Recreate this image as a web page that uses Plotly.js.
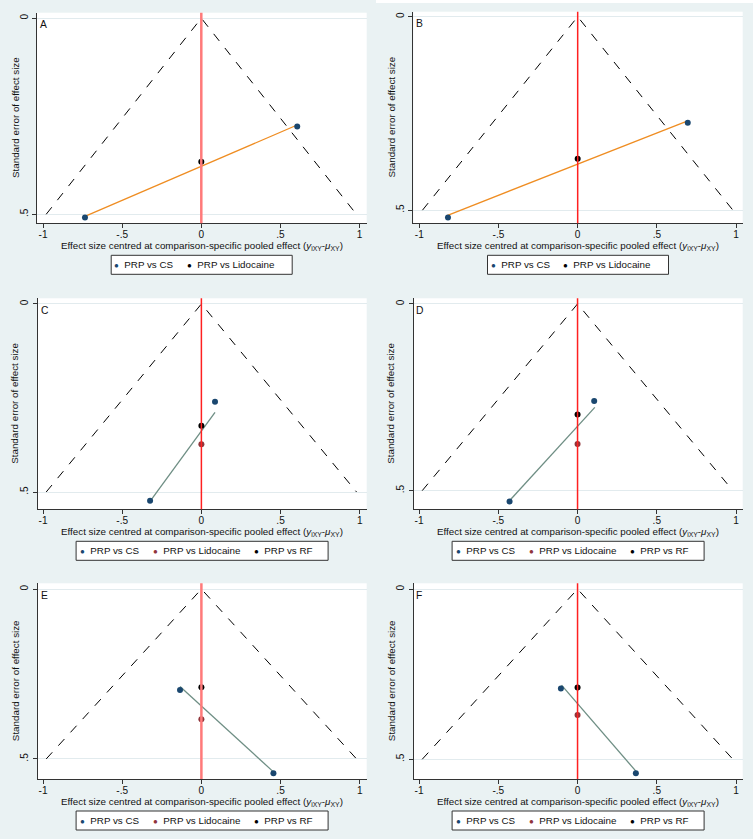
<!DOCTYPE html>
<html>
<head>
<meta charset="utf-8">
<script src="https://cdn.plot.ly/plotly-3.0.1.min.js"></script>
<style>
html,body{margin:0;padding:0;background:#eaf2f3;}
#chart{width:753px;height:839px;}
</style>
</head>
<body>
<div id="chart"></div>
<script>
// ---------- data ----------
const panelLetters = ["A", "B", "C", "D", "E", "F"];
const xTickVals = [-1, -0.5, 0, 0.5, 1];
const xTickText = ["-1", "-.5", "0", ".5", "1"];
const yTickVals = [0, 0.5];
const yTickText = ["0", ".5"];
const funnelX = [-0.98, 0, 0.98];
const funnelY = [0.5, 0, 0.5];
const seriesNames = ["PRP vs CS", "PRP vs Lidocaine", "PRP vs RF"];
const xTitleText = "Effect size centred at comparison-specific pooled effect (<i>y</i><sub>iXY</sub>-<i>μ</i><sub>XY</sub>)";
const yTitleText = "Standard error of effect size";

// Panel A
const csX_A = [0.606, -0.735];   const csY_A = [0.276, 0.508];
const lidoX_A = [0];             const lidoY_A = [0.366];
const lineX_A = [-0.728, 0.602]; const lineY_A = [0.504, 0.273];
// Panel B
const csX_B = [0.695, -0.819];   const csY_B = [0.274, 0.519];
const lidoX_B = [0];             const lidoY_B = [0.367];
const lineX_B = [-0.825, 0.695]; const lineY_B = [0.514, 0.269];
// Panel C
const csX_C = [0.086, -0.324];   const csY_C = [0.260, 0.523];
const lidoX_C = [0];             const lidoY_C = [0.373];
const rfX_C = [0];               const rfY_C = [0.324];
const lineX_C = [-0.314, 0.086]; const lineY_C = [0.519, 0.288];
// Panel D
const csX_D = [0.105, -0.429];   const csY_D = [0.260, 0.529];
const lidoX_D = [0];             const lidoY_D = [0.375];
const rfX_D = [0];               const rfY_D = [0.296];
const lineX_D = [-0.421, 0.109]; const lineY_D = [0.523, 0.277];
// Panel E
const csX_E = [-0.135, 0.455];   const csY_E = [0.297, 0.542];
const lidoX_E = [0];             const lidoY_E = [0.383];
const rfX_E = [0];               const rfY_E = [0.289];
const lineX_E = [-0.135, 0.455]; const lineY_E = [0.287, 0.538];
// Panel F
const csX_F = [-0.105, 0.368];   const csY_F = [0.292, 0.541];
const lidoX_F = [0];             const lidoY_F = [0.370];
const rfX_F = [0];               const rfY_F = [0.289];
const lineX_F = [-0.101, 0.368]; const lineY_F = [0.282, 0.535];

// ---------- layout geometry (pixels) ----------
const W = 753, H = 839;
const FONT = "Liberation Sans, Arial, sans-serif";
const FS = 9.8;
const TXT = "#111111";
const NAVY = "#1a476f", MAROON = "#90353b", BLACK = "#000000";
const ORANGE = "#ef8d22", TEAL = "#6e8e84";

const panels = [
  {csX:csX_A, csY:csY_A, lidoX:lidoX_A, lidoY:lidoY_A, rfX:null, rfY:null, lineX:lineX_A, lineY:lineY_A,
   lineColor:ORANGE, lidoColor:BLACK, px:[36.7,366.7], py:[12.7,223.3], xr:[-1.040,1.045], yr:[0.523,-0.014], red:"#ff7a7a", redW:2.5, ytx:15},
  {csX:csX_B, csY:csY_B, lidoX:lidoX_B, lidoY:lidoY_B, rfX:null, rfY:null, lineX:lineX_B, lineY:lineY_B,
   lineColor:ORANGE, lidoColor:BLACK, px:[413.3,742.7], py:[11.7,223.3], xr:[-1.038,1.042], yr:[0.534,-0.013], red:"#ff2020", redW:1.5, ytx:391},
  {csX:csX_C, csY:csY_C, lidoX:lidoX_C, lidoY:lidoY_C, rfX:rfX_C, rfY:rfY_C, lineX:lineX_C, lineY:lineY_C,
   lineColor:TEAL, lidoColor:MAROON, px:[37.5,366.7], py:[298.3,509.3], xr:[-1.035,1.044], yr:[0.546,-0.015], red:"#ff2020", redW:1.5, ytx:15},
  {csX:csX_D, csY:csY_D, lidoX:lidoX_D, lidoY:lidoY_D, rfX:rfX_D, rfY:rfY_D, lineX:lineX_D, lineY:lineY_D,
   lineColor:TEAL, lidoColor:MAROON, px:[413.5,742.7], py:[298.3,509.3], xr:[-1.035,1.042], yr:[0.550,-0.015], red:"#ff2020", redW:1.5, ytx:391},
  {csX:csX_E, csY:csY_E, lidoX:lidoX_E, lidoY:lidoY_E, rfX:rfX_E, rfY:rfY_E, lineX:lineX_E, lineY:lineY_E,
   lineColor:TEAL, lidoColor:MAROON, px:[37.5,366.7], py:[583.3,779], xr:[-1.035,1.044], yr:[0.559,-0.017], red:"#ff7a7a", redW:2.5, ytx:15},
  {csX:csX_F, csY:csY_F, lidoX:lidoX_F, lidoY:lidoY_F, rfX:rfX_F, rfY:rfY_F, lineX:lineX_F, lineY:lineY_F,
   lineColor:TEAL, lidoColor:MAROON, px:[413.5,742.7], py:[583.3,779], xr:[-1.035,1.042], yr:[0.558,-0.017], red:"#ff2020", redW:1.5, ytx:391}
];

const traces = [];
const layout = {
  width: W, height: H,
  margin: {l:0, r:0, t:0, b:0},
  paper_bgcolor: "#eaf2f3",
  plot_bgcolor: "#ffffff",
  font: {family: FONT, size: FS, color: TXT},
  showlegend: false,
  shapes: [],
  annotations: []
};

const px2x = v => v / W;
const py2y = v => 1 - v / H;

panels.forEach((p, i) => {
  const n = i + 1;
  const xa = n === 1 ? "x" : "x" + n;
  const ya = n === 1 ? "y" : "y" + n;
  const xKey = n === 1 ? "xaxis" : "xaxis" + n;
  const yKey = n === 1 ? "yaxis" : "yaxis" + n;
  const cx = (p.px[0] + p.px[1]) / 2;
  const bottom = p.py[1];

  layout[xKey] = {
    domain: [px2x(p.px[0]), px2x(p.px[1])],
    anchor: ya,
    range: p.xr,
    tickmode: "array", tickvals: xTickVals, ticktext: xTickText,
    ticks: "outside", ticklen: 4, tickcolor: "#333", tickwidth: 1,
    ticklabelstandoff: -2,
    showline: true, linecolor: "#333", linewidth: 1,
    showgrid: false, zeroline: false,
    tickfont: {family: FONT, size: FS + 0.3, color: TXT}
  };
  layout[yKey] = {
    domain: [py2y(p.py[1]), py2y(p.py[0])],
    anchor: xa,
    range: p.yr,
    tickmode: "array", tickvals: yTickVals, ticktext: yTickText,
    tickangle: -90,
    ticks: "outside", ticklen: 4, tickcolor: "#333", tickwidth: 1,
    ticklabelstandoff: 0,
    showline: true, linecolor: "#333", linewidth: 1,
    showgrid: true, gridcolor: "#e2ebee", gridwidth: 1,
    zeroline: false,
    tickfont: {family: FONT, size: FS + 0.3, color: TXT}
  };

  // axis titles
  layout.annotations.push({
    text: xTitleText, xref: "paper", yref: "paper",
    x: px2x(cx), y: py2y(bottom + 22.5), xanchor: "center", yanchor: "middle",
    showarrow: false, font: {family: FONT, size: FS, color: TXT}
  });
  layout.annotations.push({
    text: yTitleText, xref: "paper", yref: ya + " domain",
    x: px2x(p.ytx), y: 0.5, xanchor: "center", yanchor: "middle", textangle: -90,
    showarrow: false, font: {family: FONT, size: FS, color: TXT}
  });

  // red vertical line at zero
  layout.shapes.push({
    type: "line", xref: xa, yref: ya + " domain",
    x0: 0, x1: 0, y0: 0, y1: 1,
    line: {color: p.red, width: p.redW}, layer: "above"
  });
  // panel letter
  layout.annotations.push({
    text: panelLetters[i], xref: xa + " domain", yref: ya + " domain",
    x: 0, y: 1, xanchor: "left", yanchor: "middle", xshift: 1, yshift: -12,
    showarrow: false, font: {family: FONT, size: FS + 0.5, color: TXT}
  });

  // legend box (drawn as shape + annotations)
  const three = !!p.rfX;
  const boxW = three ? 252 : 181;
  const boxL = cx - (three ? 126 : 90.5);
  const boxT = bottom + 32;
  const boxB = boxT + 19;
  layout.shapes.push({
    type: "rect", xref: "paper", yref: "paper",
    x0: px2x(boxL), x1: px2x(boxL + boxW), y0: py2y(boxB), y1: py2y(boxT),
    fillcolor: "#ffffff", line: {color: "#333", width: 1}, layer: "below"
  });
  const itemOffsets = three ? [2.5, 75.5, 176.5] : [2.2, 74.5];
  const itemColors = three ? [NAVY, MAROON, BLACK] : [NAVY, p.lidoColor];
  itemOffsets.forEach((off, k) => {
    layout.annotations.push({
      text: "<span style='color:" + itemColors[k] + ";font-size:8px'>●</span>\u00a0\u00a0" + seriesNames[k],
      xref: "paper", yref: "paper",
      x: px2x(boxL + off), y: py2y((boxT + boxB) / 2), xanchor: "left", yanchor: "middle",
      showarrow: false, borderpad: 0, font: {family: FONT, size: FS, color: TXT}
    });
  });

  // funnel (pseudo confidence limits)
  traces.push({type: "scatter", mode: "lines", x: funnelX, y: funnelY, xaxis: xa, yaxis: ya,
    line: {color: "#000", width: 1, dash: "dash"}, hoverinfo: "skip"});
  // fitted line
  traces.push({type: "scatter", mode: "lines", x: p.lineX, y: p.lineY, xaxis: xa, yaxis: ya,
    line: {color: p.lineColor, width: 1.3}, hoverinfo: "skip"});
  // points
  traces.push({type: "scatter", mode: "markers", name: seriesNames[0], x: p.csX, y: p.csY, xaxis: xa, yaxis: ya,
    marker: {color: NAVY, size: 6}});
  traces.push({type: "scatter", mode: "markers", name: seriesNames[1], x: p.lidoX, y: p.lidoY, xaxis: xa, yaxis: ya,
    marker: {color: p.lidoColor, size: 6}});
  if (p.rfX) {
    traces.push({type: "scatter", mode: "markers", name: seriesNames[2], x: p.rfX, y: p.rfY, xaxis: xa, yaxis: ya,
      marker: {color: BLACK, size: 6}});
  }
});

// white strip at very top of right half (composite edge)
layout.shapes.push({type: "rect", xref: "paper", yref: "paper", x0: 376 / W, x1: 1, y0: 1 - 3 / H, y1: 1,
  fillcolor: "#ffffff", line: {width: 0}, layer: "below"});

Plotly.newPlot("chart", traces, layout, {staticPlot: true});
</script>
</body>
</html>
